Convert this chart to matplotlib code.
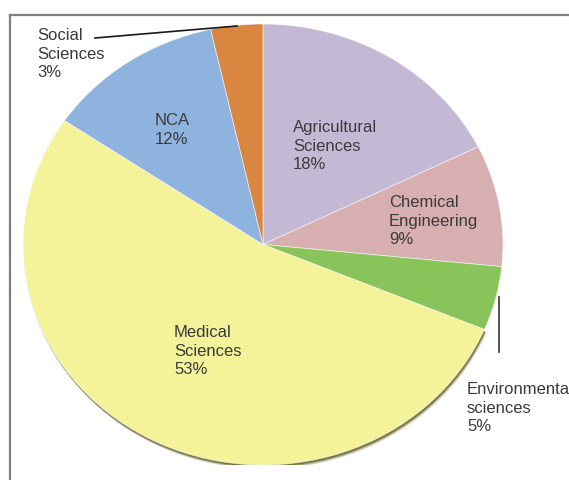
import matplotlib
matplotlib.use("Agg")
import matplotlib.pyplot as plt
from matplotlib.lines import Line2D
from matplotlib.patches import Wedge

plt.rcParams['font.family'] = ['Liberation Sans', 'DejaVu Sans']

categories = ["Agricultural\nSciences", "Chemical\nEngineering", "Environmental\nsciences",
              "Medical\nSciences", "NCA", "Social\nSciences"]
values = [17.7, 8.9, 4.7, 53.2, 12.0, 3.5]
pct_labels = ["18%", "9%", "5%", "53%", "12%", "3%"]
colors = ["#C4B9D5", "#D8AFB0", "#88C45A", "#F5F39A", "#8FB3DF", "#D98740"]

W, H = 569, 481
fig = plt.figure(figsize=(W / 100, H / 100), dpi=100)

def fx(x):
    return x / W

def fy(y):
    return 1 - y / H

# pie axes covering ellipse box (pixel coords)
left, right, top, bottom = 23, 503, 25, 466
ax = fig.add_axes([fx(left), fy(bottom), (right - left) / W, (bottom - top) / H])
ax.axis('off')

# shadow under the medical wedge
total = sum(values)
start = 90
angles = []
for v in values:
    a1 = start - 360 * v / total
    angles.append((a1, start))
    start = a1
ma1, ma2 = angles[3]
for dx, dy, al in [(0.007, -0.018, 0.25), (0.005, -0.013, 0.5), (0.003, -0.008, 0.85)]:
    ax.add_patch(Wedge((dx, dy), 1.0, ma1, ma2, facecolor="#6A6A34", alpha=al, lw=0, zorder=1))

ax.pie(values, colors=colors, startangle=90, counterclock=False,
       radius=1.0, center=(0, 0), frame=False,
       wedgeprops=dict(edgecolor=(1, 1, 1, 0.6), linewidth=0.6, zorder=2))
ax.set_xlim(-1, 1)
ax.set_ylim(-1, 1)
ax.set_aspect('auto')

# frame lines
fig.add_artist(Line2D([fx(10), fx(10)], [fy(16), fy(H + 5)], transform=fig.transFigure,
                      color="#7F7F7F", lw=1.6))
fig.add_artist(Line2D([fx(10), fx(W + 5)], [fy(16), fy(16)], transform=fig.transFigure,
                      color="#7F7F7F", lw=1.6))

# leader lines
fig.add_artist(Line2D([fx(95), fx(237)], [fy(39), fy(27)], transform=fig.transFigure,
                      color="#1A1A1A", lw=1.2))
fig.add_artist(Line2D([fx(499), fx(499)], [fy(298), fy(353)], transform=fig.transFigure,
                      color="#333333", lw=1.2))

txt = dict(fontsize=12, color="#3A3A3A", va="top", linespacing=1.3)
label_pos = [(293, 120, "left"), (389, 195, "left"), (467, 382, "left"),
             (174, 325, "left"), (172, 113, "center"), (37, 28, "left")]
for cat, pct, (x, y, ha) in zip(categories, pct_labels, label_pos):
    fig.text(fx(x), fy(y), f"{cat}\n{pct}", ha=ha, multialignment=ha, **txt)

fig.savefig("out.png", dpi=100)
